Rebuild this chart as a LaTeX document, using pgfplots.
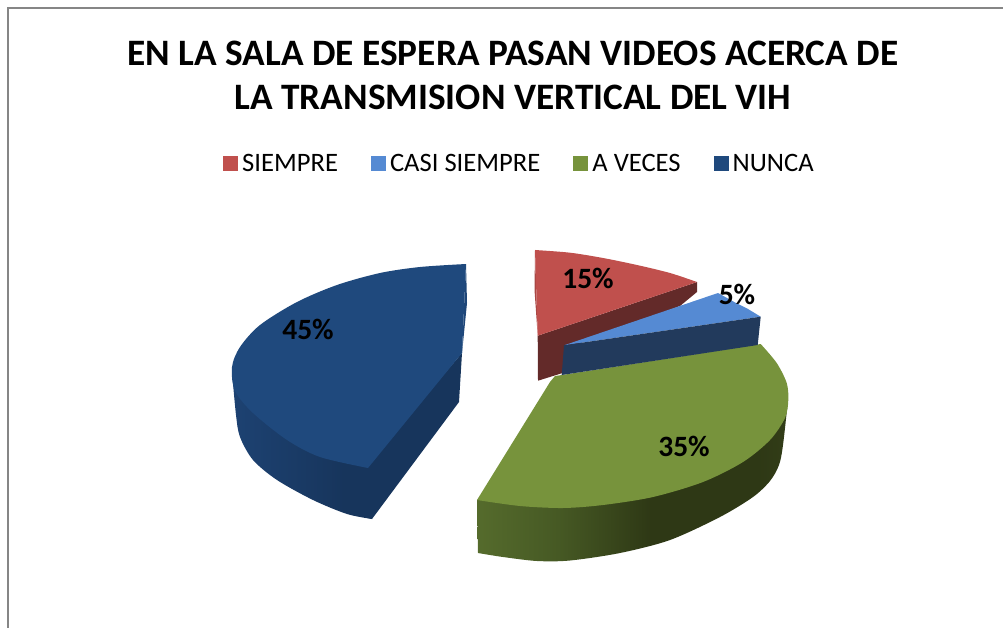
\documentclass[border=0pt]{standalone}
\usepackage{fontspec}
\setmainfont{Carlito}
\usepackage{pgfplots}
\pgfplotsset{compat=1.18}
\definecolor{cred}{HTML}{C0504D}
\definecolor{credw}{HTML}{632A29}
\definecolor{clblue}{HTML}{558AD3}
\definecolor{clbluew}{HTML}{223A5C}
\definecolor{cgreen}{HTML}{77933C}
\definecolor{cgreenl}{HTML}{556B2C}
\definecolor{cgreenm}{HTML}{465924}
\definecolor{cgreend}{HTML}{2E3815}
\definecolor{cblue}{HTML}{1F497D}
\definecolor{cbluel}{HTML}{1D4272}
\definecolor{cblued}{HTML}{17355C}
\definecolor{frame}{HTML}{868686}
% the bounding box of a path takes the range 25bp to 75bp
\pgfdeclarehorizontalshading{greenwall}{100bp}{color(0bp)=(cgreenl); color(25bp)=(cgreenl); color(38bp)=(cgreenm); color(53bp)=(cgreend); color(70bp)=(cgreend); color(75bp)=(cgreend!90!cgreenl); color(100bp)=(cgreend!90!cgreenl)}
\pgfdeclarehorizontalshading{bluewall}{100bp}{color(0bp)=(cbluel); color(25bp)=(cbluel); color(65bp)=(cblued); color(100bp)=(cblued)}
\tikzset{lab/.style={font=\fontsize{29.5}{32}\selectfont\bfseries}}
\begin{document}
\begin{tikzpicture}
\path[use as bounding box] (0,0) rectangle (1003pt,628pt);
\begin{axis}[
    scale only axis,
    width=1003pt,
    height=628pt,
    xmin=0, xmax=1003,
    ymin=0, ymax=628,
    y dir=reverse,
    hide axis,
    clip=false,
    title={EN LA SALA DE ESPERA PASAN VIDEOS ACERCA DE\\LA TRANSMISION VERTICAL DEL VIH},
    title style={at={(0.5115,0.870)}, anchor=center, align=center, inner sep=0pt,
        font=\fontsize{37.3}{43.5}\selectfont\bfseries},
    legend columns=4,
    legend style={at={(0.2223,0.739)}, anchor=west, draw=none, fill=none, inner sep=0pt,
        font=\fontsize{26.6}{30}\selectfont, column sep=0pt},
    legend cell align={left},
    /tikz/every odd column/.append style={column sep=2pt},
    /tikz/every even column/.append style={column sep=31pt},
    legend image code/.code={\fill[#1] (0pt,-7.5pt) rectangle (15pt,7.5pt);},
]
% chart frame
\addplot[frame, line width=1.5pt, forget plot] coordinates {(8,628) (8,8) (1003,8)};

% SIEMPRE, the wall runs on under the blue wedge
\addplot[draw=none, fill=credw, forget plot] coordinates {
    (697,282) (697,292) (680,306) (575,345) (575,369) (561,373.5) (538,380.7) (537.7,335.7)} --cycle;
\addplot[draw=none, fill=cred!75!credw, forget plot] coordinates {
    (535,250) (534.5,290) (537.7,335.7)} --cycle;
\addplot[draw=none, fill=cred, smooth] coordinates {
    (535,250) (570,252.7) (603,258) (637,265) (670,273) (697,282)}
    -- (axis cs:537.7,335.7) --cycle;
\addlegendentry{SIEMPRE}

% CASI SIEMPRE top
\addplot[draw=none, fill=clblue] coordinates {
    (564,345.3) (718,293) (727,298) (736,303) (748,309) (760.7,316.7)} --cycle;
\addlegendentry{CASI SIEMPRE}

% A VECES
\addplot[draw=none, shade, shading=greenwall, smooth, forget plot] coordinates {
    (478,553) (503,557) (537,561) (570,560.5) (620,553) (670,540) (720,517) (753,497)
    (770,481) (779,465) (783,445) (788,400)}
    -- (axis cs:477,500) --cycle;
\addplot[draw=none, fill=cgreen, smooth] coordinates {
    (760.7,344) (776.7,363) (786.7,383) (788.3,400) (785,418) (770,440)
    (743,462) (703,482) (653,497) (603,505) (563,508) (520,506) (477,500)}
    -- (axis cs:550,382) -- (axis cs:555,376) -- (axis cs:562,375) --cycle;
\addlegendentry{A VECES}

% CASI SIEMPRE side wall, over the green top
\addplot[draw=none, fill=clbluew, forget plot] coordinates {
    (564,345.3) (760.7,316.7) (757.7,345) (561.7,375)} --cycle;

% NUNCA
\addplot[draw=none, shade, shading=bluewall, smooth, forget plot] coordinates {
    (232,372) (236,415) (240,437) (253,460) (277,480) (313,500) (347,514) (372,519)}
    -- (axis cs:368,468) --cycle;
\addplot[draw=none, fill=cblued, forget plot] coordinates {
    (364,468) (368,518) (372,519) (459,402) (462,353)} --cycle;
\addplot[draw=none, fill=cblue!85!cblued, forget plot] coordinates {
    (466,264) (467,303) (462,353)} --cycle;
\addplot[draw=none, fill=cblue, smooth] coordinates {
    (466,264) (420,267) (380,273) (337,285) (297,302) (260,325) (240,347) (232,367)
    (235,391) (253,413) (287,440) (320,457) (368,468)}
    -- (axis cs:462,353) --cycle;
\addlegendentry{NUNCA}

% data labels
\node[lab] at (axis cs:588,278) {15\%};
\node[lab] at (axis cs:737,294) {5\%};
\node[lab] at (axis cs:684,446) {35\%};
\node[lab] at (axis cs:308,329) {45\%};
\end{axis}
\end{tikzpicture}
\end{document}
